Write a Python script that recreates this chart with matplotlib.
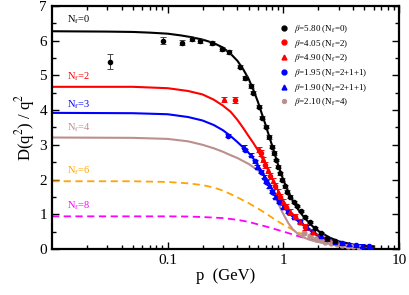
import matplotlib
matplotlib.use("Agg")
import matplotlib.pyplot as plt
from matplotlib.ticker import LogLocator, MultipleLocator, FixedLocator, NullFormatter

plt.rcParams["font.family"] = ["Liberation Serif", "DejaVu Serif"]
plt.rcParams["mathtext.fontset"] = "stix"

# curves
p_nf0 = [0.01, 0.03, 0.05, 0.07, 0.1, 0.13, 0.16, 0.2, 0.25, 0.3, 0.35, 0.4, 0.45, 0.5, 0.55, 0.6,
         0.65, 0.7, 0.75, 0.8, 0.9, 1.0, 1.1, 1.2, 1.35, 1.5, 1.75, 2.0, 2.5, 3.0, 4.0, 6.0]
d_nf0 = [6.27, 6.26, 6.25, 6.23, 6.2, 6.15, 6.1, 6.03, 5.93, 5.8, 5.62, 5.42, 5.17, 4.9, 4.58, 4.25,
         3.9, 3.58, 3.26, 2.97, 2.42, 1.98, 1.65, 1.4, 1.12, 0.92, 0.68, 0.52, 0.33, 0.22, 0.13, 0.07]

p_nf2 = [0.01, 0.05, 0.1, 0.15, 0.2, 0.25, 0.3, 0.35, 0.4, 0.45, 0.5, 0.55, 0.6, 0.65, 0.7, 0.8,
         0.9, 1.0, 1.15, 1.4, 1.6, 2.0, 2.5, 3.0, 4.0, 6.0]
d_nf2 = [4.67, 4.67, 4.63, 4.55, 4.45, 4.3, 4.13, 3.95, 3.72, 3.48, 3.25, 3.05, 2.85, 2.64, 2.43, 2.02,
         1.68, 1.38, 1.07, 0.79, 0.6, 0.4, 0.26, 0.18, 0.11, 0.06]

p_nf3 = [0.01, 0.05, 0.1, 0.15, 0.2, 0.25, 0.3, 0.35, 0.4, 0.45, 0.5, 0.55, 0.6, 0.7, 0.8, 0.9,
         1.0, 1.2, 1.4, 1.6, 2.0, 2.5, 3.0, 4.0, 6.0]
d_nf3 = [3.92, 3.91, 3.88, 3.8, 3.7, 3.57, 3.42, 3.25, 3.08, 2.92, 2.77, 2.6, 2.42, 2.06, 1.72, 1.45,
         1.23, 0.93, 0.75, 0.6, 0.36, 0.23, 0.16, 0.1, 0.06]

p_nf4 = [0.01, 0.05, 0.1, 0.15, 0.2, 0.25, 0.3, 0.35, 0.4, 0.5, 0.6, 0.65, 0.7, 0.75, 0.8, 0.85,
         0.9, 0.95, 1.0, 1.1, 1.2, 1.35, 1.5, 1.7, 2.0, 3.0, 4.0, 6.0]
d_nf4 = [3.21, 3.2, 3.17, 3.1, 3.0, 2.9, 2.8, 2.7, 2.62, 2.45, 2.27, 2.17, 2.05, 1.9, 1.72, 1.52,
         1.32, 1.15, 1.0, 0.75, 0.57, 0.42, 0.33, 0.26, 0.2, 0.11, 0.08, 0.05]

p_nf6 = [0.01, 0.05, 0.1, 0.15, 0.2, 0.25, 0.3, 0.35, 0.42, 0.5, 0.6, 0.7, 0.8, 0.9, 1.0, 1.2,
         1.4, 1.6, 2.0, 2.4, 3.0, 4.0, 6.0]
d_nf6 = [1.95, 1.95, 1.93, 1.89, 1.84, 1.77, 1.68, 1.58, 1.45, 1.32, 1.17, 1.03, 0.9, 0.79, 0.7, 0.56,
         0.45, 0.38, 0.27, 0.21, 0.15, 0.1, 0.06]

p_nf8 = [0.01, 0.1, 0.15, 0.2, 0.3, 0.4, 0.5, 0.6, 0.72, 0.85, 1.0, 1.2, 1.4, 1.6, 2.0, 2.4,
         3.0, 4.0, 6.0]
d_nf8 = [0.94, 0.94, 0.935, 0.92, 0.89, 0.84, 0.78, 0.71, 0.64, 0.57, 0.5, 0.42, 0.35, 0.3, 0.22, 0.17,
         0.12, 0.08, 0.05]

# lattice data
p_b580 = [0.032, 0.092, 0.132, 0.161, 0.189, 0.243, 0.296, 0.338, 0.425, 0.47, 0.52, 0.548, 0.612,
          0.655, 0.709, 0.757, 0.80, 0.824, 0.871, 0.90, 0.929, 0.975, 1.026, 1.076, 1.149, 1.227,
          1.312, 1.42, 1.55, 1.71, 1.89, 2.1, 2.4, 2.8]
d_b580 = [5.39, 6.0, 5.94, 6.05, 6.0, 5.93, 5.76, 5.67, 5.25, 4.92, 4.7, 4.5, 4.1,
          3.78, 3.52, 3.22, 2.95, 2.76, 2.56, 2.37, 2.18, 1.99, 1.8, 1.65, 1.51, 1.36,
          1.24, 1.1, 0.93, 0.79, 0.6, 0.45, 0.32, 0.22]
e_b580 = [0.22, 0.1, 0.07, 0.06, 0.06, 0.05, 0.05, 0.05, 0.05, 0.05, 0.05, 0.05, 0.05,
          0.05, 0.05, 0.05, 0.05, 0.05, 0.04, 0.04, 0.04, 0.04, 0.04, 0.04, 0.04, 0.03,
          0.03, 0.03, 0.03, 0.03, 0.03, 0.03, 0.03, 0.03]

p_b405 = [0.378, 0.635, 0.699, 0.773, 0.853, 0.942, 1.062, 1.269, 1.55]
d_b405 = [4.29, 2.76, 2.42, 2.10, 1.82, 1.51, 1.22, 0.93, 0.64]
p_b490 = [0.306, 0.612, 0.668, 0.732, 0.815, 0.90, 0.994, 1.149, 1.40, 1.8]
d_b490 = [4.31, 2.87, 2.58, 2.28, 1.97, 1.65, 1.36, 1.07, 0.79, 0.5]

p_b195 = [0.333, 0.47, 0.563, 0.635, 0.71, 0.8, 0.91, 1.1, 1.4, 1.8, 2.4, 3.2, 4.2, 5.5]
d_b195 = [3.26, 2.85, 2.52, 2.23, 1.94, 1.65, 1.36, 1.07, 0.79, 0.5, 0.28, 0.16, 0.11, 0.08]
p_b190 = [0.455, 0.52, 0.594, 0.676, 0.745, 0.85, 1.0, 1.23, 1.6, 2.1, 2.8, 3.7, 4.8, 5.6]
d_b190 = [2.95, 2.71, 2.37, 2.08, 1.80, 1.51, 1.22, 0.93, 0.64, 0.38, 0.21, 0.13, 0.09, 0.07]

p_b210 = [1.5, 1.7, 1.9, 2.1, 2.3, 2.6, 2.9, 3.2, 3.6, 4.0, 4.5]
d_b210 = [0.45, 0.36, 0.3, 0.25, 0.21, 0.17, 0.14, 0.12, 0.1, 0.08, 0.07]

nf_labels = ["0", "2", "3", "4", "6", "8"]
nf_label_y = [6.6, 4.96, 4.15, 3.49, 2.25, 1.25]

black = "#000000"
red = "#ff0000"
blue = "#0000ff"
brown = "#bc8f8f"
orange = "#ffa500"
magenta = "#ff00ff"

fig = plt.figure(figsize=(4.09, 2.95), dpi=100)
ax = fig.add_axes([0.127, 0.156, 0.849, 0.824])

ax.plot(p_nf8, d_nf8, color=magenta, lw=1.3, dashes=(4, 2.5))
ax.plot(p_nf6, d_nf6, color=orange, lw=1.3, dashes=(4, 2.5))
ax.plot(p_b210, d_b210, "o", color=brown, ms=3.5, zorder=3)
ax.plot(p_nf4, d_nf4, color=brown, lw=1.5)
ax.plot(p_nf3, d_nf3, color=blue, lw=1.5)
ax.plot(p_nf2, d_nf2, color=red, lw=1.5)
ax.plot(p_nf0, d_nf0, color=black, lw=1.5)

err = dict(capsize=2, elinewidth=0.7, capthick=0.7, ls="none", ms=3, zorder=4)
ax.errorbar(p_b195, d_b195, yerr=0.04, fmt="o", color=blue, **err)
ax.errorbar(p_b190, d_b190, yerr=0.04, fmt="^", color=blue, **err)
ax.errorbar(p_b405, d_b405, yerr=0.08, fmt="o", color=red, **err)
ax.errorbar(p_b490, d_b490, yerr=0.08, fmt="^", color=red, **err)
ax.errorbar(p_b580, d_b580, yerr=e_b580, fmt="o", color=black, ecolor="#444444", **err)

colors_lab = [black, red, blue, brown, orange, magenta]
for n, y, c in zip(nf_labels, nf_label_y, colors_lab):
    ax.text(0.0134, y, r"N$_{\rm f}$=" + n, color=c, fontsize=7.5, va="center")

# legend
handles = [
    plt.Line2D([], [], ls="none", marker="o", color=black, ms=3.5),
    plt.Line2D([], [], ls="none", marker="o", color=red, ms=3.5),
    plt.Line2D([], [], ls="none", marker="^", color=red, ms=3.5),
    plt.Line2D([], [], ls="none", marker="o", color=blue, ms=3.5),
    plt.Line2D([], [], ls="none", marker="^", color=blue, ms=3.5),
    plt.Line2D([], [], ls="none", marker="o", color=brown, ms=2.8),
]
labels = [
    r"$\beta$=5.80 (N$_{\rm f}$=0)",
    r"$\beta$=4.05 (N$_{\rm f}$=2)",
    r"$\beta$=4.90 (N$_{\rm f}$=2)",
    r"$\beta$=1.95 (N$_{\rm f}$=2+1+1)",
    r"$\beta$=1.90 (N$_{\rm f}$=2+1+1)",
    r"$\beta$=2.10 (N$_{\rm f}$=4)",
]
ax.legend(handles, labels, loc="upper left", bbox_to_anchor=(0.655, 0.93), frameon=False,
          fontsize=6.5, handlelength=1.0, handletextpad=0.6, labelspacing=0.3,
          borderaxespad=0, borderpad=0)

ax.set_xscale("log")
ax.set_xlim(0.01, 10)
ax.set_ylim(0, 7)
ax.xaxis.set_major_locator(FixedLocator([0.1, 1, 10]))
ax.set_xticklabels(["0.1", "1", "10"])
ax.xaxis.set_minor_locator(LogLocator(base=10, subs=range(2, 10)))
ax.xaxis.set_minor_formatter(NullFormatter())
ax.yaxis.set_major_locator(MultipleLocator(1))
ax.yaxis.set_minor_locator(MultipleLocator(0.5))
ax.tick_params(which="both", direction="in", top=True, right=True, labelsize=11, width=1)
ax.tick_params(which="major", length=5)
ax.tick_params(which="minor", length=3)
for s in ax.spines.values():
    s.set_linewidth(1.6)

ax.set_xlabel("p  (GeV)", fontsize=12, labelpad=1)
ax.set_ylabel(r"D(q$^2$) / q$^2$", fontsize=12, labelpad=2)

fig.savefig("out.png", dpi=100)
